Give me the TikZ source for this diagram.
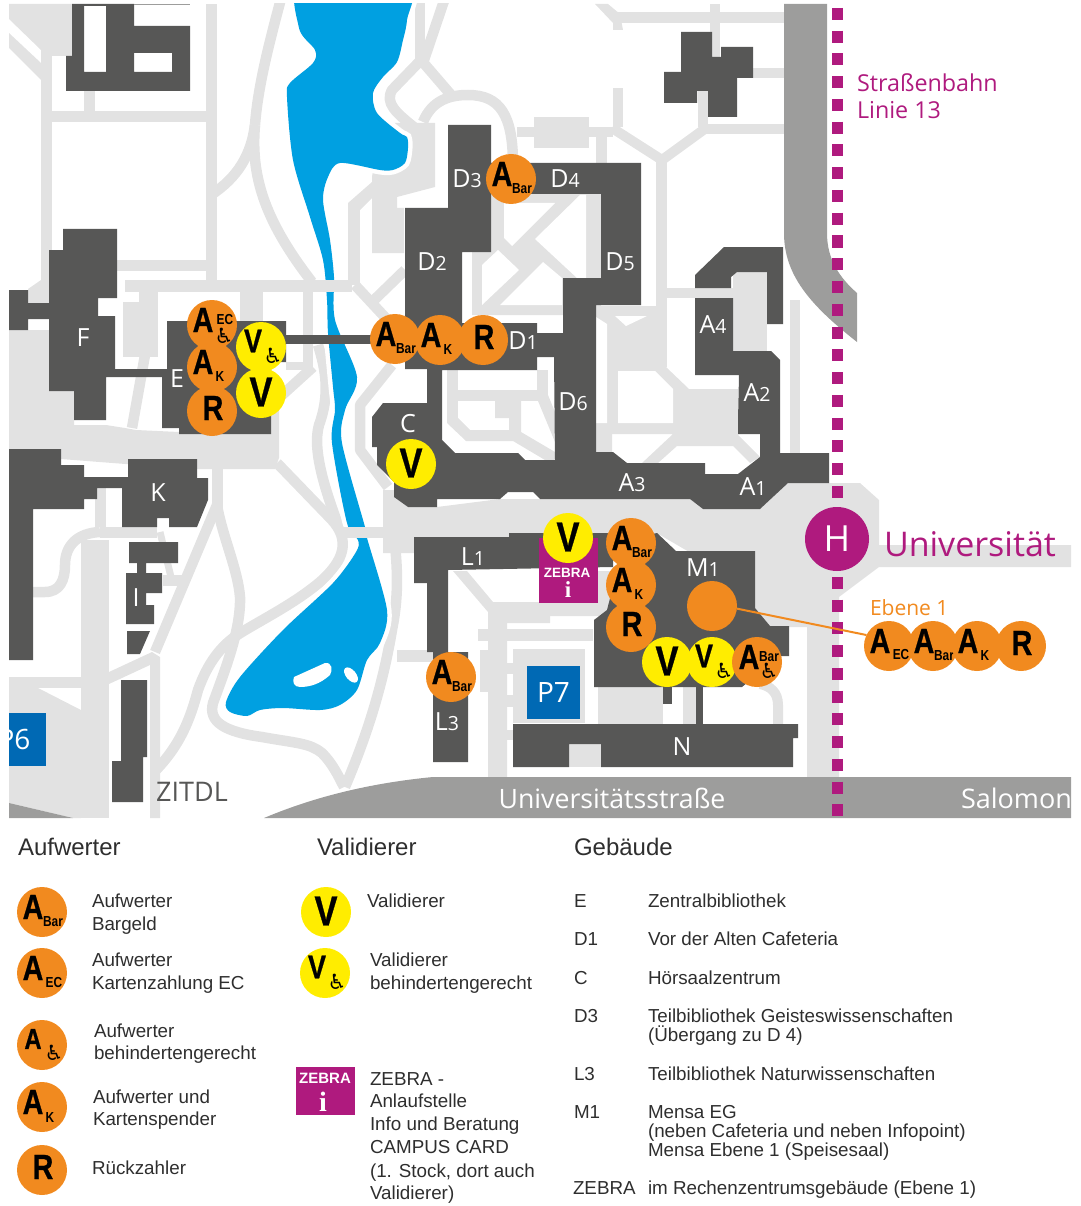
\documentclass[tikz,border=0pt]{standalone}
\usepackage{graphicx}
\usepackage{fontspec}
\setmainfont{Liberation Sans}
\newfontfamily\mapf{Open Sans}
\newfontfamily\iconf[BoldFeatures={FakeBold=0.8}]{Liberation Sans}
\newfontfamily\symf{DejaVu Sans}
\newfontfamily\serf{Liberation Serif}
\definecolor{roadc}{HTML}{E2E2E2}
\definecolor{bldc}{HTML}{575756}
\definecolor{hwyc}{HTML}{9D9D9C}
\definecolor{riverc}{HTML}{00A0E1}
\definecolor{parkc}{HTML}{0069B4}
\definecolor{tramc}{HTML}{AF1A7E}
\definecolor{orangec}{HTML}{F18A1F}
\definecolor{yellowc}{HTML}{FFED00}
\definecolor{txtc}{HTML}{2E2E2E}
\newcommand{\fsz}[1]{\fontsize{#1}{#1}\selectfont}
\newcommand{\bl}[2]{#1{\fsz{19.5}#2}}
\tikzset{
  every node/.style={inner sep=0pt,outer sep=0pt},
  roadline/.style={draw=roadc,line width=10.5pt,line join=round},
  roadfill/.style={fill=roadc},
  bld/.style={fill=bldc},
  whitefill/.style={fill=white},
  orangedot/.style={circle,fill=orangec,minimum size=50pt},
  yellowdot/.style={circle,fill=yellowc,minimum size=50pt},
  biga/.style={font=\iconf\bfseries\fsz{35},text=black},
  bigv/.style={font=\iconf\bfseries\fsz{42},text=black},
  midv/.style={font=\iconf\bfseries\fsz{33},text=black},
  midt/.style={font=\iconf\bfseries\fsz{29},text=black},
  subl/.style={font=\bfseries\fsz{14.5},text=black},
  chair/.style={font=\symf\fsz{21},text=black},
  maplabel/.style={font=\mapf\fsz{25},text=white},
  tramtext/.style={font=\mapf\fsz{23.3},text=tramc,anchor=base west},
  legendhead/.style={font=\fsz{24},text=txtc,anchor=base west},
  legendtext/.style={font=\fsz{18.8},text=txtc,anchor=base west},
}
\newcommand{\disc}[3]{\node[#3] (#1) at (#2) {};}
\newcommand{\glyph}[5]{\node[#1,xshift=#3 pt,yshift=#4 pt] (#2#1) at (#2) {#5};}
\newcommand{\narrow}[1]{\scalebox{.82}[1]{#1}}
\newcommand{\Aletter}[1]{\glyph{biga}{#1}{-9}{5}{\narrow{A}}}
\newcommand{\Abar}[2]{\disc{#1}{#2}{orangedot}\Aletter{#1}\glyph{subl}{#1}{11}{-10}{\narrow{Bar}}}
\newcommand{\Aec}[2]{\disc{#1}{#2}{orangedot}\Aletter{#1}\glyph{subl}{#1}{12}{-9}{\narrow{EC}}}
\newcommand{\Ak}[2]{\disc{#1}{#2}{orangedot}\Aletter{#1}\glyph{subl}{#1}{8}{-10}{\narrow{K}}}
\newcommand{\Rr}[2]{\disc{#1}{#2}{orangedot}\glyph{biga}{#1}{1}{3}{\narrow{R}}}
\newcommand{\Vv}[2]{\disc{#1}{#2}{yellowdot}\glyph{bigv}{#1}{0}{1}{\narrow{V}}}
\newcommand{\Vw}[2]{\disc{#1}{#2}{yellowdot}\glyph{midv}{#1}{-8}{6}{\narrow{V}}\glyph{chair}{#1}{12}{-9}{♿}}
\begin{document}
\begin{tikzpicture}[x=1pt,y=-1pt]
\useasboundingbox (0,0) rectangle (1080,1206);
\begin{scope}
\clip (9,4) rectangle (1071,818);
% --- light roads and plazas ---
\fill[roadfill] (9,4)--(72,4)--(72,56)--(52,56)--(41,50)--(9,19)--cycle;
\fill[roadfill] (9,33)--(41,63)--(41,80)--(9,48)--cycle;
\fill[roadfill] (41,50) rectangle (52,280);
\fill[roadfill] (41,280)--(52,280)--(52,303)--(28,303)--(28,289)--cycle;
\fill[roadfill] (52,111) rectangle (206,122);
\fill[roadfill] (84,91) rectangle (95,111);
\fill[roadfill] (206,4) rectangle (217,285);
\fill[roadfill] (117,260) rectangle (206,271);
\draw[roadline] (282,-5) .. controls (270,40) and (258,85) .. (255,125);
\draw[roadline] (255,125) .. controls (251,155) and (238,177) .. (211,195);
\draw[roadline] (255,125) .. controls (250,180) and (268,225) .. (312,282);
\fill[roadfill] (125,280) rectangle (352,292);
\fill[roadfill] (123,302) rectangle (158,357);
\fill[roadfill] (139,292) rectangle (158,302);
\fill[roadfill] (240,292) rectangle (263,321);
\draw[roadline] (145,355) -- (132,428);
\fill[roadfill] (303,292) rectangle (313,367);
\fill[roadfill] (286,362) rectangle (313,370);
\draw[roadline] (281,396) -- (313,367);
\draw[roadline] (318,345) .. controls (326,370) and (330,395) .. (319,425) .. controls (312,450) and (325,490) .. (340,530);
% plaza west
\fill[roadfill] (9,330)--(49,330)--(49,391)--(74,391)--(74,425)--(106,425)--(125,428)--(136,430)--(179,432)--(271,434)--(271,400)--(279,400)--(279,458)--(275,469)--(190,469)--(9,455)--cycle;
% road west lake
\draw[roadline] (277,463) -- (332,520) .. controls (350,540) and (345,560) .. (320,582) .. controls (295,603) and (265,618) .. (242,632) .. controls (220,645) and (207,665) .. (198,690) .. controls (190,720) and (180,745) .. (156,770);
\fill[roadfill] (212,465) rectangle (223,510);
\draw[roadline] (217,505) -- (155,652);
\draw[roadline] (217,505) .. controls (222,535) and (238,570) .. (240,597) .. controls (241,630) and (225,670) .. (213,703) .. controls (208,722) and (225,732) .. (262,737) .. controls (295,743) and (310,743) .. (322,753) .. controls (332,763) and (338,775) .. (344,787);
\draw[roadline] (345,787) .. controls (365,740) and (382,690) .. (392,630) .. controls (398,600) and (398,575) .. (395,545);
\fill[roadfill] (397,650) rectangle (433,662);
% left lower
\fill[roadfill] (81,540) rectangle (109,818);
\fill[roadfill] (9,677) rectangle (81,688);
\fill[roadfill] (9,688)--(38,688)--(81,710)--(81,818)--(73,818)--(9,803)--cycle;
\fill[roadfill] (109,672)--(152,652)--(160,657)--(160,818)--(150,818)--(150,665)--(109,684)--cycle;
\draw[roadline] (33,592) -- (45,592) .. controls (60,592) and (65,580) .. (65,565) .. controls (65,545) and (78,533) .. (100,532);
\fill[roadfill] (100,527) rectangle (157,538);
\fill[roadfill] (95,488) rectangle (106,527);
\draw[draw=roadc,line width=7pt] (160,532) -- (171,577);
\fill[roadfill] (163,575) rectangle (183,586);
% river-side roads upper
\draw[roadline] (420,-5) -- (420,60);
\draw[roadline] (446,-5) -- (424,60);
\draw[roadline] (421,60) -- (392,90) .. controls (385,103) and (395,112) .. (415,128);
\draw[roadline] (421,60) -- (452,96);
\draw[roadline] (423,122) .. controls (432,100) and (450,95) .. (468,95) .. controls (500,95) and (513,115) .. (513,165);
\draw[roadline] (355,285) -- (395,328);
\draw[roadline] (372,302) -- (405,270);
\draw[roadline] (392,365) -- (360,405) -- (360,450) -- (388,487);
\fill[roadfill] (348,203) rectangle (360,285);
\fill[roadfill] (348,203)--(372,182)--(372,198)--(360,210)--cycle;
\fill[roadfill] (372,177)--(380,123)--(435,123)--(435,187)--(397,197)--(397,208)--(404,208)--(404,253)--(372,253)--cycle;
% north campus
\fill[roadfill] (517,127) rectangle (613,137);
\fill[roadfill] (534,117) rectangle (589,148);
\fill[roadfill] (596,137) rectangle (607,165);
\fill[roadfill] (613,88) rectangle (623,127);
\draw[roadline,line width=10pt,line join=miter] (612,128) -- (662,160) -- (706,128);
\fill[roadfill] (705,124) rectangle (784,134);
\fill[roadfill] (698,90) rectangle (708,127);
\fill[roadfill] (656,160) rectangle (667,367);
\fill[roadfill] (617,12) rectangle (784,23);
\fill[roadfill] (595,4)--(608,4)--(620,14)--(623,30)--(613,30)--(613,23)--cycle;
\fill[roadfill] (710,4) rectangle (720,57);
\fill[roadfill] (753,68) rectangle (784,78);
\fill[roadfill] (790,300) rectangle (800,460);
\fill[roadfill] (733,272) rectangle (767,351);
\fill[roadfill] (667,288) rectangle (733,298);
% courtyard D
\fill[roadfill] (472,252)--(491,252)--(491,194)--(601,194)--(601,315)--(472,315)--cycle;
\fill[whitefill] (504,203)--(555,203)--(512,246)--(504,238)--cycle;
\fill[whitefill] (580,195)--(535,239)--(577,278)--(586,278)--(586,195)--cycle;
\fill[whitefill] (482,265)--(498,250)--(519,270)--(482,305)--cycle;
\fill[whitefill] (543,262)--(562,278)--(562,305)--(500,305)--cycle;
% area D6 - A2
\fill[roadfill] (596,306)--(666,306)--(666,367)--(689,389)--(738,389)--(738,435)--(760,457)--(750,463)--(733,446)--(677,446)--(658,463)--(642,463)--(673,434)--(612,434)--(612,452)--(596,452)--cycle;
\fill[whitefill] (596,317)--(607,324)--(607,423)--(596,423)--cycle;
\fill[whitefill] (615,316)--(647,316)--(626,326)--cycle;
\fill[whitefill] (618,371)--(655,371)--(673,389)--(673,423)--(618,423)--cycle;
% yard below D1
\fill[roadfill] (447,370) rectangle (458,418);
\fill[roadfill] (458,390) rectangle (548,401);
\fill[roadfill] (537,370) rectangle (548,395);
\fill[roadfill] (538,401)--(548,395)--(555,412)--(555,442)--cycle;
\fill[roadfill] (447,418)--(458,418)--(470,430)--(509,430)--(509,418)--(495,418)--(495,401)--(521,401)--(521,432)--(555,452)--(555,460)--(545,460)--(513,441)--(466,441)--(447,423)--cycle;
% central plaza and H
\fill[roadfill] (383,490)--(394,490)--(408,507)--(437,507)--(500,499)--(690,499)--(703,509)--(760,509)--(788,483)--(860,483)--(879,500)--(879,545)--(1071,545)--(1071,567)--(879,567)--(839,597)--(839,778)--(807,778)--(807,627)--(720,627)--(720,570)--(660,535)--(538,537)--(414,537)--(414,553)--(383,553)--cycle;
% south
\fill[roadfill] (453,571)--(467,571)--(493,602)--(612,602)--(612,616)--(550,616)--(550,623)--(507,623)--(507,777)--(488,777)--(488,612)--cycle;
\fill[roadfill] (598,571) rectangle (612,605);
\fill[roadfill] (478,629) rectangle (593,641);
\fill[roadfill] (480,650) rectangle (488,692);
\fill[roadfill] (507,663) rectangle (513,674);
\fill[roadfill] (507,695) rectangle (513,707);
\fill[roadfill] (507,730) rectangle (513,740);
\fill[roadfill] (513,649) rectangle (585,723);
\fill[roadfill] (598,687) rectangle (663,724);
\fill[roadfill] (683,687) rectangle (696,724);
\draw[draw=roadc,line width=10pt] (778,724) -- (778,705) .. controls (778,692) and (770,686) .. (760,684);
\fill[roadfill] (569,744) rectangle (601,767);
% --- river: white bank first, then water ---
\def\riverpath{plot[smooth cycle,tension=0.5] coordinates {
 (302,-20) (299,28) (315,50) (313,63) (290,83) (287,97) (293,160) (310,217) (323,260) (327,300) (328,333) (333,387) (335,410) (332,443) (347,523) (358,540) (356,552) (333,583) (283,630) (240,677) (226,702) (230,712) (247,716) (260,710) (283,708) (320,710) (340,705) (357,690) (367,660) (380,643) (387,610) (367,538) (365,527) (342,443) (345,410) (357,377) (335,320) (334,277) (330,240) (323,200) (328,177) (340,163) (380,170) (393,170) (405,163) (408,148) (407,137) (400,133) (377,113) (373,93) (383,77) (397,62) (403,40) (407,20) (408,-20)}}
\draw[draw=white,line width=9pt] \riverpath;
\fill[riverc] \riverpath;
\fill[whitefill] (294,677)--(325,663)..controls (332,662) and (333,670) .. (330,675)..controls (320,684) and (310,687) .. (300,687)..controls (294,687) and (292,682) .. (294,677)--cycle;
\fill[whitefill,rotate around={40:(351,675)}] (351,675) ellipse (5pt and 9pt);
% road crossings over the river
\fill[roadfill] (316,280) rectangle (352,292);
\fill[roadfill] (343,527) rectangle (384,538);
% --- highways ---
\fill[hwyc] (784,4)--(827,4)--(827,233) .. controls (827,260) and (840,278) .. (857,293)--(857,342) .. controls (810,305) and (784,275) .. (784,233)--cycle;
\fill[hwyc] (264,818) .. controls (295,805) and (350,785) .. (433,777)--(1071,777)--(1071,818)--cycle;
\fill[hwyc] (9,803)--(73,818)--(9,818)--cycle;
% --- buildings ---
\fill[bld,even odd rule] (72,4)--(134,4)--(134,26)--(190,26)--(190,91)--(66,91)--(66,56)--(72,56)--cycle (84,6) rectangle (106,72) (134,53) rectangle (172,72);
\fill[hwyc] (134,4) rectangle (190,5.2);
\fill[bld] (63,229)--(117,229)--(117,298)--(98,298)--(98,316)--(115,316)--(115,369)--(167,369)--(167,377)--(106,377)--(106,420)--(74,420)--(74,391)--(49,391)--(49,319)--(28,319)--(28,330)--(9,330)--(9,290)--(28,290)--(28,303)--(49,303)--(49,250)--(63,250)--cycle;
\fill[bld] (167,321)--(286,321)--(286,362)--(271,362)--(271,434)--(179,434)--(179,428)--(162,428)--(162,369)--(167,369)--cycle;
\fill[bld] (286,335) rectangle (380,344);
\fill[bld,even odd rule] (448,125)--(491,125)--(491,163)--(641,163)--(641,305)--(596,305)--(596,452)--(613,452)--(627,463)--(705,463)--(705,474)--(738,474)--(760,457)--(760,434)--(738,434)--(738,420)--(739,375)--(695,375)--(695,298)--(733,298)--(733,351)--(771,351)--(780,360)--(780,453)--(829,453)--(829,483)--(788,483)--(760,509)--(703,509)--(690,499)--(540,499)--(533,492)--(508,492)--(500,499)--(437,499)--(437,507)--(408,507)--(394,497)--(394,482)--(377,465)--(377,447)--(372,447)--(372,417)--(383,403)--(427,403)--(427,369)--(405,369)--(405,208)--(448,208)--cycle
 (491,194)--(601,194)--(601,278)--(563,278)--(563,333)--(537,333)--(537,323)--(462,323)--(462,252)--(491,252)--cycle
 (442,370)--(537,370)--(537,357)--(554,357)--(555,460)--(525,460)--(518,453)--(455,453)--(442,440)--cycle;
\fill[bld] (695,275)--(724,247)--(783,247)--(783,324)--(767,324)--(767,272)--(737,272)--(731,277)--(731,288)--(695,288)--cycle;
\fill[bld] (681,32)--(712,32)--(712,57)--(721,57)--(721,47)--(753,47)--(753,78)--(737,78)--(737,117)--(708,117)--(708,91)--(697,91)--(697,103)--(664,103)--(664,72)--(681,72)--cycle;
\fill[bld] (9,449)--(61,449)--(61,465)--(84,465)--(84,477)--(128,477)--(128,459)--(197,459)--(197,478)--(208,478)--(208,500)--(197,527)--(169,527)--(169,518)--(157,518)--(157,527)--(122,527)--(122,488)--(97,488)--(97,499)--(84,499)--(84,509)--(33,509)--(33,660)--(9,660)--cycle;
\fill[bld] (129,542)--(178,542)--(178,563)--(146,563)--(146,573)--(162,573)--(162,593)--(146,593)--(146,605)--(154,605)--(154,624)--(126,624)--(126,573)--(137,573)--(137,563)--(129,563)--cycle;
\fill[bld] (127,631)--(150,631)--(140,654)--(127,654)--cycle;
\fill[bld] (121,680)--(147,680)--(147,757)--(143,757)--(143,802)--(112,802)--(112,761)--(121,761)--cycle;
\fill[bld] (414,537)--(509,537)--(509,533)--(543,533)--(613,533)--(613,567)--(448,570)--(448,652)--(468,652)--(468,762)--(433,762)--(433,652)--(427,652)--(427,583)--(414,583)--cycle;
\fill[bld] (594,620)--(607,610)--(625,540)--(657,533)--(676,551)--(755,551)--(755,608)--(770,626)--(789,626)--(789,656)--(780,656)--(742,687)--(594,687)--cycle;
\fill[bld] (663,687) rectangle (672,704);
\fill[bld] (696,687) rectangle (703,724);
\fill[bld] (513,724)--(798,724)--(798,738)--(793,738)--(793,767)--(601,767)--(601,744)--(569,744)--(569,767)--(513,767)--cycle;
% --- parking ---
\node[fill=parkc,minimum width=53pt,minimum height=53pt,anchor=north west,font=\mapf\fsz{28},text=white] (pseven) at (527,666) {P7};
\node[fill=parkc,minimum width=64pt,minimum height=53pt,anchor=north east,font=\mapf\fsz{28},text=white] (psix) at (46,713) {P6};
% --- tram line ---
\draw[tramc,line width=11.5pt,dash pattern=on 12pt off 10.75pt] (837.5,8) -- (837.5,818);
\node[circle,fill=tramc,minimum size=64pt,font=\mapf\fsz{36},text=white] (hstop) at (837,539) {H};
% --- building labels ---
\node[maplabel] (lF) at (83,338) {F};
\node[maplabel] (lE) at (177,379) {E};
\node[maplabel] (lDthree) at (467,179) {\bl{D}{3}};
\node[maplabel] (lDfour) at (565,179) {\bl{D}{4}};
\node[maplabel] (lDtwo) at (432,262) {\bl{D}{2}};
\node[maplabel] (lDfive) at (620,262) {\bl{D}{5}};
\node[maplabel] (lDone) at (523,341) {\bl{D}{1}};
\node[maplabel] (lAfour) at (713,325) {\bl{A}{4}};
\node[maplabel] (lAtwo) at (757,393) {\bl{A}{2}};
\node[maplabel] (lDsix) at (573,402) {\bl{D}{6}};
\node[maplabel] (lC) at (408,424) {C};
\node[maplabel] (lAthree) at (632,483) {\bl{A}{3}};
\node[maplabel] (lAone) at (753,487) {\bl{A}{1}};
\node[maplabel] (lK) at (158,493) {K};
\node[maplabel] (lI) at (136,598) {I};
\node[maplabel] (lLone) at (473,557) {\bl{L}{1}};
\node[maplabel] (lLthree) at (447,722) {\bl{L}{3}};
\node[maplabel] (lN) at (682,747) {N};
\node[maplabel] (lMone) at (703,568) {\bl{M}{1}};
\node[maplabel,text=bldc,font=\mapf\fsz{27}] (lZ) at (192,792) {ZITDL};
\node[maplabel,font=\mapf\fsz{26.7}] (lUni) at (612,798) {Universitätsstraße};
\node[maplabel,font=\mapf\fsz{27},anchor=base west] (lSal) at (961,808) {Salomon};
\node[tramtext] (lTa) at (857,92) {Straßenbahn};
\node[tramtext] (lTb) at (857,119) {Linie 13};
\node[tramtext,font=\mapf\fsz{34}] (lUnist) at (884,556) {Universität};
\node[tramtext,font=\mapf\fsz{21},text=orangec] (lEb) at (870,615) {Ebene 1};
% --- ZEBRA box on the map ---
\node[fill=tramc,minimum width=59pt,minimum height=65pt,anchor=north west] (zbox) at (539,538) {};
\node[font=\bfseries\fsz{13.5},text=white] (zt) at (567,573) {ZEBRA};
\node[font=\serf\bfseries\fsz{23},text=white] (zi) at (568,590) {i};
% --- markers on the map ---
\disc{ecE}{212,325}{orangedot}\Aletter{ecE}\glyph{subl}{ecE}{13}{5}{\narrow{EC}}\glyph{chair}{ecE}{12}{-11}{♿}
\Ak{akE}{212,367}
\Rr{rE}{212,411}
\Vw{vwE}{261,347}
\Vv{vE}{261,393}
\Abar{abarD}{395,339}
\Ak{akD}{440,340}
\Rr{rD}{483,340}
\Abar{abarDt}{511,179}
\Vv{vC}{411,464}
\Vv{vZ}{568,538}
\Abar{abarM}{631,543}
\Ak{akM}{631,585}
\Rr{rM}{631,627}
\disc{mone}{712,606}{orangedot}
\Vv{vM}{667,662}
\Vw{vwM}{712,662}
\disc{abw}{757,662}{orangedot}\glyph{biga}{abw}{-8}{5}{\narrow{A}}\glyph{subl}{abw}{12}{5}{\narrow{Bar}}\glyph{chair}{abw}{12}{-9}{♿}
\Abar{abarL}{451,677}
\Aec{ebEC}{889,646}
\Abar{ebBar}{933,646}
\Ak{ebK}{977,646}
\Rr{ebR}{1021,646}
\draw[orangec,line width=2pt] (mone.-6) -- (ebEC.154);
\end{scope}
% --- legend ---
\node[legendhead] (hA) at (18,855) {Aufwerter};
\node[legendhead] (hV) at (317,855) {Validierer};
\node[legendhead] (hG) at (574,855) {Gebäude};
\Abar{lgBar}{42,912}
\Aec{lgEC}{42,973}
\disc{lgW}{42,1045}{orangedot}\glyph{midt}{lgW}{-9}{6}{\narrow{A}}\glyph{chair}{lgW}{12}{-8}{♿}
\Ak{lgK}{42,1107}
\Rr{lgR}{42,1170}
\Vv{lgV}{326,912}
\Vw{lgVw}{325,973}
\node[legendtext] (ta) at (92,907) {Aufwerter};
\node[legendtext] (tb) at (92,930) {Bargeld};
\node[legendtext] (tc) at (92,966) {Aufwerter};
\node[legendtext] (td) at (92,989) {Kartenzahlung EC};
\node[legendtext] (te) at (94,1037) {Aufwerter};
\node[legendtext] (tf) at (94,1059) {behindertengerecht};
\node[legendtext] (tg) at (93,1103) {Aufwerter und};
\node[legendtext] (th) at (93,1125) {Kartenspender};
\node[legendtext] (ti) at (92,1174) {Rückzahler};
\node[legendtext] (va) at (367,907) {Validierer};
\node[legendtext] (vb) at (370,966) {Validierer};
\node[legendtext] (vc) at (370,989) {behindertengerecht};
\node[fill=tramc,minimum width=59pt,minimum height=48pt,anchor=north west] (lgzbox) at (296,1067) {};
\node[font=\bfseries\fsz{15},text=white] (lgzt) at (325,1078) {ZEBRA};
\node[font=\serf\bfseries\fsz{28},text=white] (lgzi) at (323,1102) {i};
\node[legendtext] (za) at (370,1085) {ZEBRA -};
\node[legendtext] (zb) at (370,1107) {Anlaufstelle};
\node[legendtext] (zc) at (370,1130) {Info und Beratung};
\node[legendtext] (zd) at (370,1153) {CAMPUS CARD};
\node[legendtext] (ze) at (370,1177) {(1. Stock, dort auch};
\node[legendtext] (zf) at (370,1199) {Validierer)};
\node[legendtext] (ga) at (574,907) {E};
\node[legendtext] (gaa) at (648,907) {Zentralbibliothek};
\node[legendtext] (gb) at (574,945) {D1};
\node[legendtext] (gbb) at (648,945) {Vor der Alten Cafeteria};
\node[legendtext] (gc) at (574,984) {C};
\node[legendtext] (gcc) at (648,984) {Hörsaalzentrum};
\node[legendtext] (gd) at (574,1022) {D3};
\node[legendtext] (gdd) at (648,1022) {Teilbibliothek Geisteswissenschaften};
\node[legendtext] (gde) at (648,1041) {(Übergang zu D 4)};
\node[legendtext] (ge) at (574,1080) {L3};
\node[legendtext] (gee) at (648,1080) {Teilbibliothek Naturwissenschaften};
\node[legendtext] (gf) at (574,1118) {M1};
\node[legendtext] (gff) at (648,1118) {Mensa EG};
\node[legendtext] (gfg) at (648,1137) {(neben Cafeteria und neben Infopoint)};
\node[legendtext] (gfh) at (648,1156) {Mensa Ebene 1 (Speisesaal)};
\node[legendtext] (gg) at (573,1194) {ZEBRA};
\node[legendtext] (ggg) at (648,1194) {im Rechenzentrumsgebäude (Ebene 1)};
\end{tikzpicture}
\end{document}
